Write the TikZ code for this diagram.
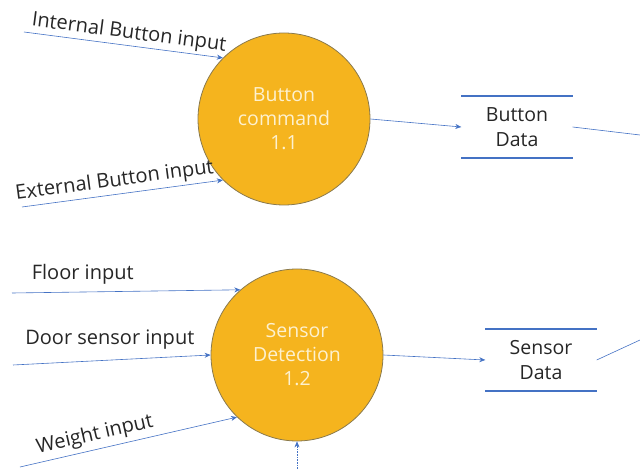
\documentclass[tikz,border=0pt]{standalone}
\usepackage{fontspec}
\setmainfont{Open Sans}
\usetikzlibrary{positioning, arrows.meta}
\definecolor{cProcess}    {HTML}{F5B41E}
\definecolor{cProcBorder} {HTML}{8A7A4E}
\definecolor{cProcText}   {HTML}{FDF1CF}
\definecolor{cFlow}       {HTML}{4472C4}
\definecolor{cText}       {HTML}{262626}

\begin{document}
\begin{tikzpicture}[x=1pt, y=-1pt,
  process/.style={circle, draw=cProcBorder, line width=0.8pt, fill=cProcess,
    minimum size=172pt, inner sep=0pt, align=center, text=cProcText,
    font=\fontsize{19.5}{24}\selectfont},
  store/.style={minimum width=111pt, minimum height=62pt, inner sep=0pt,
    align=center, text=cText, font=\fontsize{19.5}{25}\selectfont},
  storeline/.style={draw=cFlow, line width=2pt},
  flow/.style={draw=cFlow, line width=0.6pt, -{Stealth[length=6pt, width=5pt]}},
  flowlabel/.style={text=cText, font=\fontsize{20}{22}\selectfont, inner sep=1pt},
]
  \useasboundingbox (0,0) rectangle (640,470);

  % processes
  \node[process] (btncmd) at (284,119) {Button\\command\\1.1};
  \node[process] (sensdet) at (297,355) {Sensor\\Detection\\1.2};

  % data stores
  \node[store] (btndata) at (517,127) {Button\\Data};
  \node[store] (sensdata) at (541,360) {Sensor\\Data};
  \foreach \s in {btndata, sensdata} {
    \draw[storeline] (\s.north west) -- (\s.north east);
    \draw[storeline] (\s.south west) -- (\s.south east);
  }

  % free ends
  \coordinate (intin) at (24,32);
  \coordinate (extin) at (22,207);
  \coordinate (floorin) at (12,293);
  \coordinate (doorin) at (13,365);
  \coordinate (weightin) at (20,467);
  \coordinate (btnout) at (640,135);
  \coordinate (sensout) at (640,340);
  \coordinate (belowin) at (297,472);

  % inputs
  \draw[flow] (intin) -- node[flowlabel, above=1pt, sloped, pos=0.52] {Internal Button input} (btncmd.135);
  \draw[flow] (extin) -- node[flowlabel, above=2pt, sloped, pos=0.47] {External Button input} (btncmd.225);
  \draw[flow] (floorin) -- node[flowlabel, above=6pt, pos=0.31] {Floor input} (sensdet.131);
  \draw[flow] (doorin) -- node[flowlabel, above=9pt, pos=0.49] {Door sensor input} (sensdet.west);
  \draw[flow] (weightin) -- node[flowlabel, above=3pt, sloped, pos=0.36] {Weight input} (sensdet.226);
  \draw[flow, densely dotted] (belowin) -- (sensdet.south);

  % outputs
  \draw[flow] (btncmd.east) -- (btndata.west);
  \draw[flow] (sensdet.east) -- (sensdata.west);
  \draw[draw=cFlow, line width=0.6pt] (btndata.east) -- (btnout);
  \draw[draw=cFlow, line width=0.6pt] (sensdata.east) -- (sensout);
\end{tikzpicture}
\end{document}
